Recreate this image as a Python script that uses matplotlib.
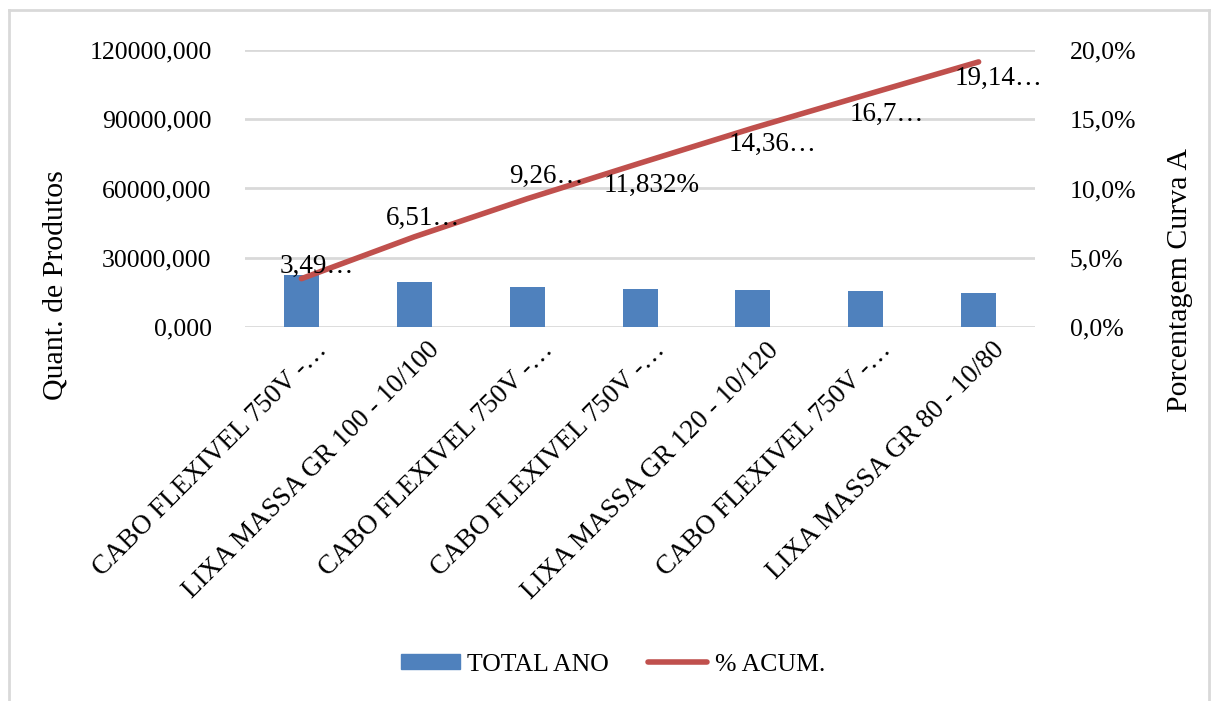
import matplotlib.pyplot as plt
from matplotlib.lines import Line2D
from matplotlib.ticker import FuncFormatter
from matplotlib.transforms import ScaledTranslation

# Curva ABC - itens da classe A
produtos = ['CABO FLEXIVEL 750V -…', 'LIXA MASSA GR 100 - 10/100', 'CABO FLEXIVEL 750V -…',
            'CABO FLEXIVEL 750V -…', 'LIXA MASSA GR 120 - 10/120', 'CABO FLEXIVEL 750V -…',
            'LIXA MASSA GR 80 - 10/80']
total_ano = [22500, 19300, 17500, 16300, 16200, 15400, 14900]
perc_acum = [3.49, 6.51, 9.26, 11.832, 14.36, 16.76, 19.14]
rotulos = ['3,49…', '6,51…', '9,26…', '11,832%', '14,36…', '16,7…', '19,14…']

AZUL = '#4f81bd'
VERMELHO = '#c0504d'
GRADE = '#d9d9d9'

plt.rcParams['font.family'] = ['Liberation Serif', 'DejaVu Serif']
plt.rcParams['font.size'] = 18.5

fig = plt.figure(figsize=(12.11, 7.01), dpi=100)
ax = fig.add_axes([0.2023, 0.5335, 0.6524, 0.3952])
ax2 = ax.twinx()

x = range(len(produtos))
ax.bar(x, total_ano, width=0.31, color=AZUL, zorder=2)
ax.set_ylim(0, 120000)
ax.set_yticks([0, 30000, 60000, 90000, 120000])
ax.yaxis.set_major_formatter(FuncFormatter(lambda v, p: f'{v:.3f}'.replace('.', ',')))
ax.set_xlim(-0.5, len(produtos) - 0.5)
ax.grid(axis='y', color=GRADE, linewidth=2, zorder=0)
ax.set_xticks(list(x))
ax.set_xticklabels(produtos, rotation=45, ha='right', rotation_mode='anchor', fontsize=19.5)
ax.tick_params(axis='x', length=0, pad=12)
ax.tick_params(axis='y', length=0, pad=24)
desl_rot = ScaledTranslation(0.13, 0.06, fig.dpi_scale_trans)
for lbl in ax.get_xticklabels():
    lbl.set_transform(lbl.get_transform() + desl_rot)
for s in ax.spines.values():
    s.set_visible(False)

ax2.plot(x, perc_acum, color=VERMELHO, linewidth=4, solid_capstyle='round', zorder=3)
ax2.set_ylim(0, 20)
ax2.set_yticks([0, 5, 10, 15, 20])
ax2.yaxis.set_major_formatter(FuncFormatter(lambda v, p: f'{v:.1f}%'.replace('.', ',')))
ax2.tick_params(axis='y', length=0, pad=25)
for s in ax2.spines.values():
    s.set_visible(False)

# posicao dos rotulos de dados (pontos)
desloc = [(11, 9), (6, 13), (14, 16), (8, -16), (14, -12), (15, -14), (14, -12)]
for xi, yi, txt, d in zip(x, perc_acum, rotulos, desloc):
    ax2.annotate(txt, (xi, yi), xytext=d, textcoords='offset points',
                 ha='center', va='center', fontsize=19.5, zorder=4)

ax.set_ylabel('Quant. de Produtos', fontsize=21.5)
ax.yaxis.set_label_coords(-0.224, 0.15)
ax2.set_ylabel('Porcentagem Curva A', rotation=90, fontsize=21.5)
ax2.yaxis.set_label_coords(1.167, 0.17)

handles = [plt.Rectangle((0, 0), 1, 1, color=AZUL),
           Line2D([0], [0], color=VERMELHO, linewidth=4, solid_capstyle='round')]
fig.legend(handles, ['TOTAL ANO', '% ACUM.'], loc='center', bbox_to_anchor=(0.506, 0.052),
           ncol=2, frameon=False, handlelength=2.3, handleheight=0.55,
           handletextpad=0.3, columnspacing=1.5)

# moldura do grafico
fig.add_artist(Line2D([9 / 1211, 9 / 1211], [0, 1 - 10 / 701], color=GRADE, linewidth=2))
fig.add_artist(Line2D([9 / 1211, 1], [1 - 10 / 701, 1 - 10 / 701], color=GRADE, linewidth=2))
fig.add_artist(Line2D([1209 / 1211, 1209 / 1211], [0, 1 - 10 / 701], color=GRADE, linewidth=2))

fig.savefig('out.png', dpi=100, facecolor='white')
